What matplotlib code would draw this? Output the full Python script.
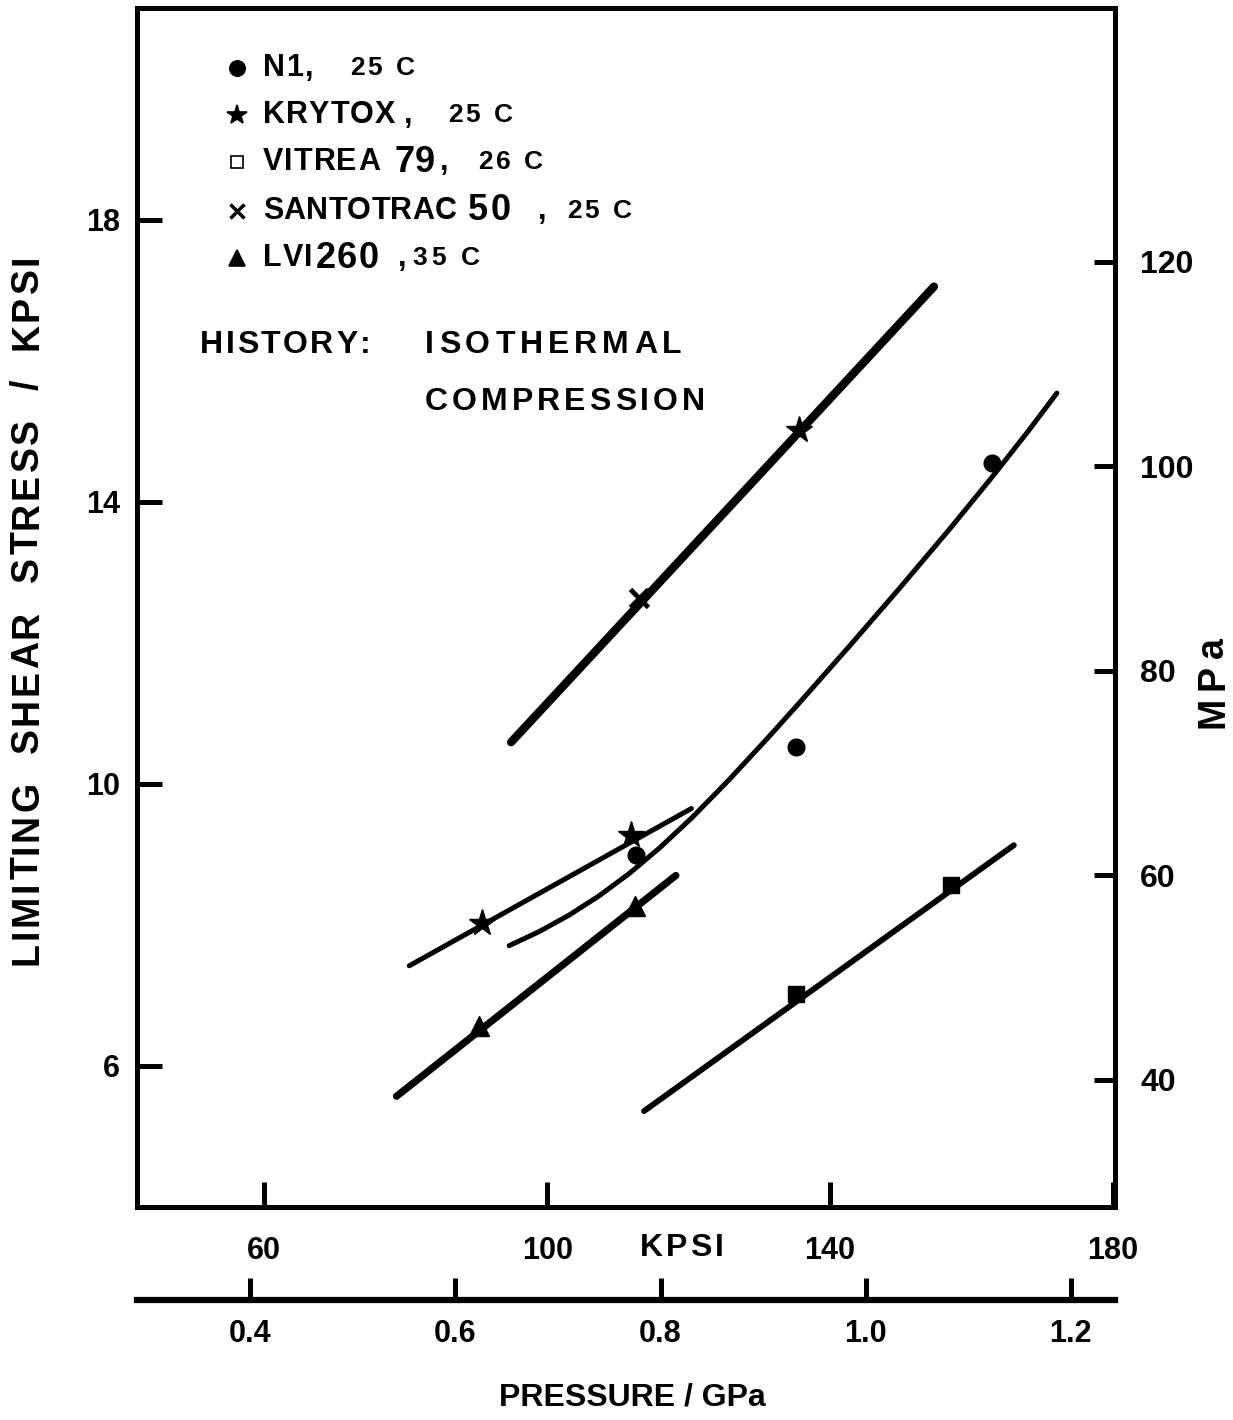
import matplotlib
matplotlib.use('Agg')
import matplotlib.pyplot as plt

plt.rcParams['font.family'] = ['Liberation Sans', 'DejaVu Sans']
plt.rcParams['font.weight'] = 'bold'

# data (pressure kpsi, limiting shear stress kpsi)
n1_p = [112.6, 135.2, 162.9]
n1_s = [8.99, 10.52, 14.55]
n1_curve_p = [94.63, 98.87, 103.11, 107.35, 111.59, 115.83, 120.49, 125.72,
              131.38, 135.62, 142.69, 149.75, 156.82, 162.90, 168.13, 172.08]
n1_curve_s = [7.705, 7.905, 8.139, 8.412, 8.727, 9.085, 9.521, 10.057,
              10.670, 11.143, 11.946, 12.763, 13.601, 14.347, 15.014, 15.540]

krytox_p = [90.8, 111.9]
krytox_s = [8.03, 9.27]
krytox_line_p = [80.5, 120.4]
krytox_line_s = [7.42, 9.65]

santo_x_p = [113.0]
santo_x_s = [12.63]
santo_star_p = [135.6]
santo_star_s = [15.02]
santo_line_p = [94.9, 154.7]
santo_line_s = [10.59, 17.05]

vitrea_p = [135.2, 157.1]
vitrea_s = [7.02, 8.57]
vitrea_line_p = [113.7, 166.0]
vitrea_line_s = [5.36, 9.13]

lvi_p = [90.4, 112.4]
lvi_s = [6.57, 8.27]
lvi_line_p = [78.7, 118.2]
lvi_line_s = [5.57, 8.70]

kpsi_ticks = [60, 100, 140, 180]
stress_ticks = [6, 10, 14, 18]
mpa_ticks = [40, 60, 80, 100, 120]
gpa_ticks = [0.4, 0.6, 0.8, 1.0, 1.2]

W, H = 1233, 1420
fig = plt.figure(figsize=(W / 100, H / 100), dpi=100)
ax = fig.add_axes([137 / W, 1 - 1207 / H, 978 / W, 1199 / H])
renderer = fig.canvas.get_renderer()


def fx(px):
    return px / W


def fy(py):
    return 1 - py / H


def tracked(x, y, s, size, track=0.0):
    # horizontal text with extra letter spacing, x/y in pixels from top-left
    pos = x
    for ch in s:
        if ch == ' ':
            pos += 0.278 * size * 100 / 72 + track
            continue
        t = fig.text(fx(pos), fy(y), ch, ha='left', va='center', fontsize=size,
                     fontweight='bold')
        pos += t.get_window_extent(renderer).width + track


def tracked_vert(x, y_bottom, s, size, track=0.0):
    # text rotated 90 degrees, reading upward from y_bottom
    pos = y_bottom
    for ch in s:
        if ch == ' ':
            pos -= 0.278 * size * 100 / 72 + track
            continue
        t = fig.text(fx(x), fy(pos), ch, ha='center', va='bottom', rotation=90,
                     fontsize=size, fontweight='bold')
        pos -= t.get_window_extent(renderer).height + track


# lines
ax.plot(n1_curve_p, n1_curve_s, color='black', lw=3.6, solid_capstyle='round',
        solid_joinstyle='round')
ax.plot(krytox_line_p, krytox_line_s, color='black', lw=3.6, solid_capstyle='round')
ax.plot(santo_line_p, santo_line_s, color='black', lw=6.0, solid_capstyle='round')
ax.plot(vitrea_line_p, vitrea_line_s, color='black', lw=4.2, solid_capstyle='round')
ax.plot(lvi_line_p, lvi_line_s, color='black', lw=5.2, solid_capstyle='round')

# points
ax.plot(n1_p, n1_s, 'o', color='black', ms=12)
ax.plot(krytox_p, krytox_s, '*', color='black', ms=20)
ax.plot(santo_star_p, santo_star_s, '*', color='black', ms=20)
ax.plot(santo_x_p, santo_x_s, 'x', color='black', ms=13, mew=3.5)
ax.plot(vitrea_p, vitrea_s, 's', color='black', ms=12)
ax.plot(lvi_p, lvi_s, '^', color='black', ms=15)

ax.set_xlim(42, 180.3)
ax.set_ylim(4, 21)

for sp in ax.spines.values():
    sp.set_linewidth(3.6)

ax.set_xticks(kpsi_ticks)
ax.set_yticks(stress_ticks)
ax.tick_params(axis='x', direction='in', length=18, width=3.6, pad=21, labelsize=22)
ax.tick_params(axis='y', direction='in', length=18, width=3.6, pad=12, labelsize=22)
ax.tick_params(right=False)

# right MPa axis
secy = ax.secondary_yaxis('right', functions=(lambda k: k * 6.895, lambda m: m / 6.895))
secy.set_yticks(mpa_ticks)
secy.spines['right'].set_visible(False)
secy.tick_params(direction='in', length=15, width=3.6, pad=18, labelsize=23)

# lower GPa axis
secx = ax.secondary_xaxis(-0.0776, functions=(lambda k: k / 145.04, lambda g: g * 145.04))
secx.set_xticks(gpa_ticks, labels=[f'{g:.1f}' for g in gpa_ticks])
secx.spines['bottom'].set_linewidth(4.5)
secx.tick_params(direction='in', length=16, width=3.6, pad=14, labelsize=22)

# axis labels
tracked_vert(28, 965, 'LIMITING  SHEAR  STRESS  /  KPSI', 27, 2.7)
tracked_vert(1213, 728, 'MPa', 27, 7)
tracked(640, 1248, 'KPSI', 23, 3)
fig.text(fx(632), fy(1398), 'PRESSURE / GPa', ha='center', va='center',
         fontsize=23, fontweight='bold')

# legend, drawn by hand like the original
rows = [
    (68, 'o', True, [(263, 'N1', 22, 1), (305, ',', 22, 0), (350, '25 C', 19, 3)]),
    (115, '*', True, [(263, 'KRYTOX', 22, 1), (404, ',', 22, 0), (448, '25 C', 19, 3)]),
    (162, 's', False, [(263, 'VITREA', 22, 1), (394, '79', 26, 1), (440, ',', 22, 0),
                       (478, '26 C', 19, 3)]),
    (211, 'x', True, [(263, 'SANTOTRAC', 22, 0.3), (468, '50', 26, 3), (538, ',', 22, 0),
                      (567, '25 C', 19, 3)]),
    (258, '^', True, [(263, 'LVI', 22, 1), (316, '260', 26, 1), (398, ',', 22, 0),
                      (412, '35 C', 19, 4)]),
]
for py, mk, filled, pieces in rows:
    ms = {'o': 11, '*': 15, 's': 9, 'x': 10, '^': 12}[mk]
    fig.lines.append(plt.Line2D([fx(237)], [fy(py)], transform=fig.transFigure, marker=mk,
                                ls='none', ms=ms, mew=2.5 if mk == 'x' else 1.2,
                                mfc='black' if filled else 'white', mec='black'))
    for px, s, size, tr in pieces:
        tracked(px, py, s, size, tr)

tracked(200, 345, 'HISTORY:', 23, 2.5)
tracked(425, 345, 'ISOTHERMAL', 23, 5)
tracked(425, 402, 'COMPRESSION', 23, 4)

fig.savefig('out.png', dpi=100)
